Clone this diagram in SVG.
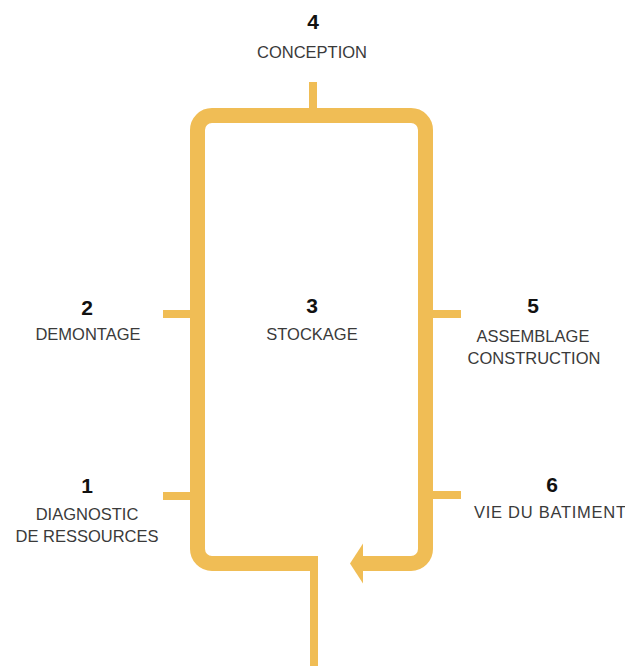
<svg xmlns="http://www.w3.org/2000/svg" width="625" height="666" viewBox="0 0 625 666">
<style>
.frame{fill:none;stroke:#F0BD55;stroke-width:15;stroke-linejoin:round}
.thin{fill:none;stroke:#F0BD55;stroke-width:8}
.num{font-family:"Liberation Sans",Arial,sans-serif;font-weight:bold;font-size:21px;fill:#111;text-anchor:middle}
.lbl{font-family:"Liberation Sans",Arial,sans-serif;font-size:16.5px;fill:#3a3a3a;text-anchor:middle}
</style>
<rect width="625" height="666" fill="#fff"/>
<g id="connectors">
<path class="frame" d="M362 563.5 H411 A14.5 14.5 0 0 0 425.5 549 V130 A14.5 14.5 0 0 0 411 115.5 H212 A14.5 14.5 0 0 0 197.5 130 V549 A14.5 14.5 0 0 0 212 563.5 H318"/>
<polygon points="350,563.5 363,543.5 363,583.5" fill="#F0BD55"/>
<line class="thin" x1="314" y1="560" x2="314" y2="666"/>
<line class="thin" x1="313" y1="82" x2="313" y2="112"/>
<line class="thin" x1="163" y1="314" x2="192" y2="314"/>
<line class="thin" x1="163" y1="496" x2="192" y2="496"/>
<line class="thin" x1="431" y1="314" x2="461" y2="314"/>
<line class="thin" x1="431" y1="495" x2="461" y2="495"/>
</g>
<g id="n4"><text class="num" x="313" y="29">4</text><text class="lbl" x="312" y="58">CONCEPTION</text></g>
<g id="n2"><text class="num" x="87" y="315">2</text><text class="lbl" x="88" y="340">DEMONTAGE</text></g>
<g id="n3"><text class="num" x="312" y="313">3</text><text class="lbl" x="312" y="340">STOCKAGE</text></g>
<g id="n5"><text class="num" x="533" y="313">5</text><text class="lbl" x="533" y="342">ASSEMBLAGE</text><text class="lbl" x="534" y="364">CONSTRUCTION</text></g>
<g id="n1"><text class="num" x="87" y="493">1</text><text class="lbl" x="87" y="520">DIAGNOSTIC</text><text class="lbl" x="87" y="542">DE RESSOURCES</text></g>
<g id="n6"><text class="num" x="552" y="492">6</text><text class="lbl" x="474" y="518" style="text-anchor:start" textLength="152" lengthAdjust="spacing">VIE DU BATIMENT</text></g>
</svg>
